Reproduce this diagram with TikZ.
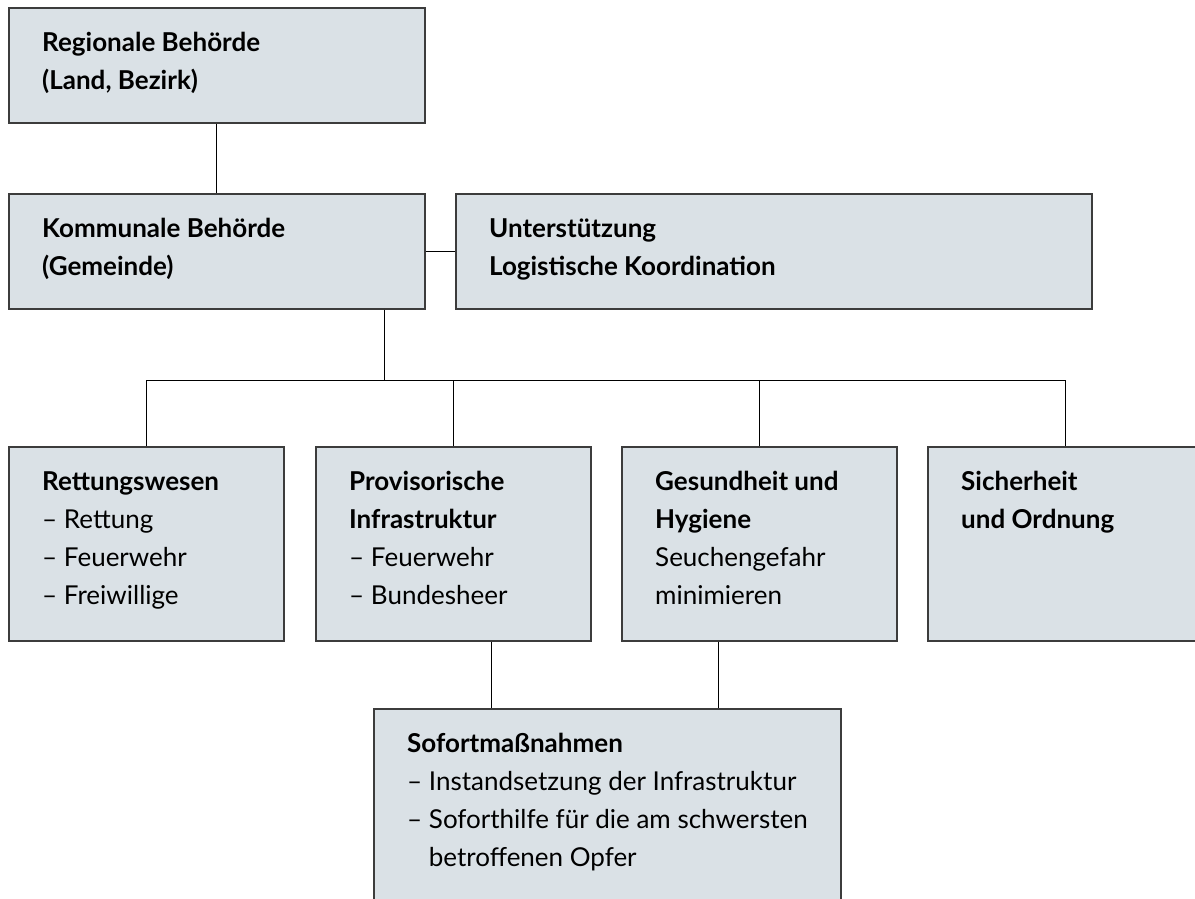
\documentclass[tikz,border=0pt]{standalone}
\usepackage{fontspec}
\setmainfont{Lato}
\definecolor{boxfill}{HTML}{DAE1E6}
\definecolor{boxline}{HTML}{3C3C3C}
\newcommand{\firstline}{\rule{0pt}{24pt}}
\newcommand{\dashindent}{\hphantom{– }}
\begin{document}
\begin{tikzpicture}[x=1pt,y=-1pt,
  box/.style={draw=boxline,fill=boxfill,line width=1.6pt,rectangle,anchor=north west,inner sep=0pt},
  upperbox/.style={box,minimum width=416pt,minimum height=115pt},
  lowerbox/.style={box,minimum width=275pt,minimum height=194pt},
  label/.style={anchor=north west,inner sep=0pt,align=left,font=\fontsize{26}{38}\selectfont},
  link/.style={draw=black,line width=1pt}]
\useasboundingbox (0,0) rectangle (1195,899);
\clip (0,0) rectangle (1195,899);

% upper level
\node[upperbox] (reg) at (8,7) {};
\node[upperbox] (kom) at (8,193) {};
\node[box,minimum width=636pt,minimum height=115pt] (unt) at (455,193) {};

% lower level
\node[lowerbox] (ret) at (8,446) {};
\node[lowerbox] (pro) at (315,446) {};
\node[lowerbox] (ges) at (621,446) {};
\node[lowerbox] (sic) at (927,446) {};
\node[box,minimum width=467pt,minimum height=260pt] (sof) at (373,708) {};

% texts
\node[label] (tReg) at ([shift={(34,20)}]reg.north west) {\firstline\textbf{Regionale Behörde}\\\textbf{(Land, Bezirk)}};
\node[label] (tKom) at ([shift={(34,20)}]kom.north west) {\firstline\textbf{Kommunale Behörde}\\\textbf{(Gemeinde)}};
\node[label] (tUnt) at ([shift={(34,20)}]unt.north west) {\firstline\textbf{Unterstützung}\\\textbf{Logistische Koordination}};
\node[label] (tRet) at ([shift={(34,20)}]ret.north west) {\firstline\textbf{Rettungswesen}\\– Rettung\\– Feuerwehr\\– Freiwillige};
\node[label] (tPro) at ([shift={(34,20)}]pro.north west) {\firstline\textbf{Provisorische}\\\textbf{Infrastruktur}\\– Feuerwehr\\– Bundesheer};
\node[label] (tGes) at ([shift={(34,20)}]ges.north west) {\firstline\textbf{Gesundheit und}\\\textbf{Hygiene}\\Seuchengefahr\\minimieren};
\node[label] (tSic) at ([shift={(34,20)}]sic.north west) {\firstline\textbf{Sicherheit}\\\textbf{und Ordnung}};
\node[label] (tSof) at ([shift={(34,20)}]sof.north west) {\firstline\textbf{Sofortmaßnahmen}\\– Instandsetzung der Infrastruktur\\– Soforthilfe für die am schwersten\\\dashindent betroffenen Opfer};

% connectors
\coordinate (bus) at (384,380);
\coordinate (s1) at (491,700);
\coordinate (s2) at (718,700);
\draw[link] (reg.south) -- (kom.north);
\draw[link] (kom.east) -- (unt.west);
\draw[link] (kom.south -| bus) -- (bus);
\draw[link] (ret.north) -- (ret.north |- bus) -- (sic.north |- bus) -- (sic.north);
\draw[link] (pro.north) -- (pro.north |- bus);
\draw[link] (ges.north) -- (ges.north |- bus);
\draw[link] (s1 |- pro.south) -- (s1 |- sof.north);
\draw[link] (s2 |- ges.south) -- (s2 |- sof.north);
\end{tikzpicture}
\end{document}
